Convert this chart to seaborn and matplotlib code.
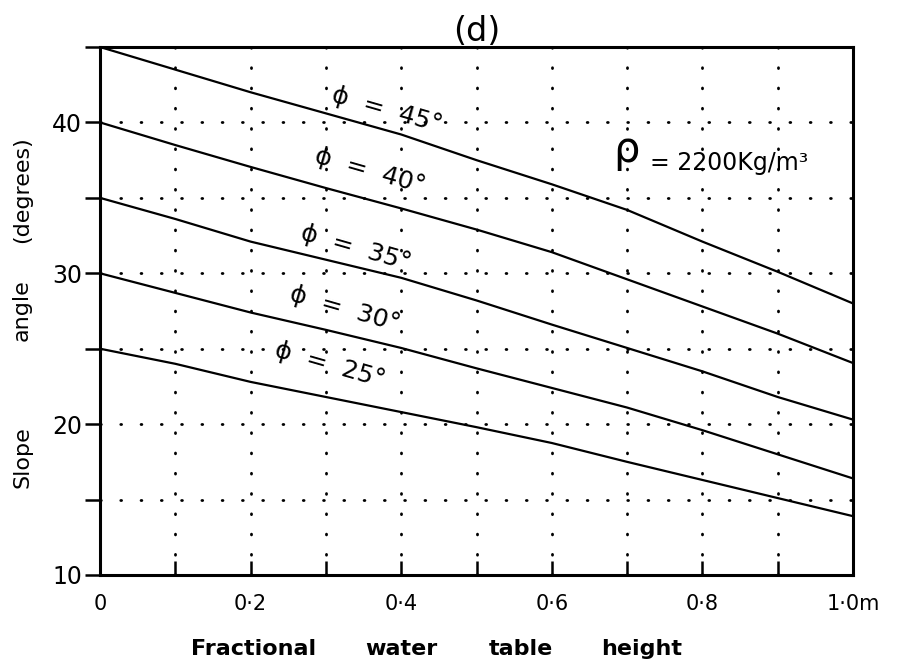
import matplotlib
matplotlib.use("Agg")
import matplotlib.pyplot as plt
import seaborn as sns
import pandas as pd

# ---- data ----
x_vals = [0.0, 0.1, 0.2, 0.3, 0.4, 0.5, 0.6, 0.7, 0.8, 0.9, 1.0]
phi_45 = [45.0, 43.5, 42.0, 40.6, 39.2, 37.5, 35.9, 34.2, 32.1, 30.1, 28.0]
phi_40 = [40.0, 38.5, 37.05, 35.65, 34.3, 32.9, 31.4, 29.6, 27.8, 26.0, 24.05]
phi_35 = [35.0, 33.6, 32.1, 30.9, 29.7, 28.2, 26.6, 25.05, 23.5, 21.8, 20.3]
phi_30 = [30.0, 28.7, 27.4, 26.25, 25.05, 23.7, 22.4, 21.1, 19.6, 18.0, 16.4]
phi_25 = [25.0, 24.0, 22.8, 21.8, 20.8, 19.8, 18.75, 17.5, 16.3, 15.1, 13.9]
series_names = ["45", "40", "35", "30", "25"]

x_ticks = [0.0, 0.1, 0.2, 0.3, 0.4, 0.5, 0.6, 0.7, 0.8, 0.9, 1.0]
x_ticklabels = ["0", "", "0·2", "", "0·4", "", "0·6", "", "0·8", "", "1·0m"]
y_ticks = [10, 15, 20, 25, 30, 35, 40, 45]
y_ticklabels = ["10", "", "20", "", "30", "", "40", ""]

label_texts = ["ϕ  =  45°", "ϕ  =  40°", "ϕ  =  35°", "ϕ  =  30°", "ϕ  =  25°"]
label_x = [0.381, 0.359, 0.340, 0.325, 0.305]
label_y = [40.8, 36.8, 31.7, 27.6, 23.9]

xlabel_words = ["Fractional", "water", "table", "height"]
xlabel_px = [254, 401, 521, 642]
ylabel_words = ["Slope", "angle", "(degrees)"]
ylabel_py = [457, 310, 190]

rows = []
for name, vals in zip(series_names, [phi_45, phi_40, phi_35, phi_30, phi_25]):
    for xv, yv in zip(x_vals, vals):
        rows.append({"x": xv, "y": yv, "phi": name})
df = pd.DataFrame(rows)

sns.set_style("white")
plt.rcParams["font.family"] = ["DejaVu Sans"]
plt.rcParams["lines.dash_capstyle"] = "round"
for k in ["text.color", "axes.labelcolor", "xtick.color", "ytick.color"]:
    plt.rcParams[k] = "black"

W, H = 899, 664
fig = plt.figure(figsize=(W / 100, H / 100), dpi=100)
ax = fig.add_axes([100 / W, 1 - 575 / H, 753 / W, 528 / H])

sns.lineplot(data=df, x="x", y="y", hue="phi", palette=["black"] * 5,
             linewidth=1.6, legend=False, ax=ax)

ax.set_xlim(0, 1.0)
ax.set_ylim(10, 45)
ax.set_xticks(x_ticks)
ax.set_xticklabels(x_ticklabels, fontsize=15)
ax.set_yticks(y_ticks)
ax.set_yticklabels(y_ticklabels, fontsize=17)
ax.tick_params(axis="x", bottom=True, direction="in", length=10, width=1.8,
               pad=14, color="black")
ax.tick_params(axis="y", left=True, direction="out", length=11, width=1.8,
               pad=2, color="black")

ax.grid(True, color="black", linestyle=(0, (0.3, 7)), linewidth=2.0)
for s in ax.spines.values():
    s.set_visible(True)
    s.set_color("black")
    s.set_linewidth(2.2)

ax.set_xlabel("")
ax.set_ylabel("")
ax.set_title("(d)", fontsize=24, pad=4)

for word, px in zip(xlabel_words, xlabel_px):
    fig.text(px / W, 1 - 649 / H, word, fontsize=16, fontweight="bold",
             ha="center", va="center")
for word, py in zip(ylabel_words, ylabel_py):
    fig.text(22 / W, 1 - py / H, word, fontsize=16, rotation=90,
             ha="center", va="center")

for t, lx, ly in zip(label_texts, label_x, label_y):
    ax.text(lx, ly, t, fontsize=18, rotation=-16, ha="center", va="center",
            rotation_mode="anchor")

ax.text(0.682, 38.2, "ρ", fontsize=30, ha="left", va="center")
ax.text(0.731, 37.3, "= 2200Kg/m³", fontsize=17, ha="left", va="center")

fig.savefig("out.png", dpi=100)
